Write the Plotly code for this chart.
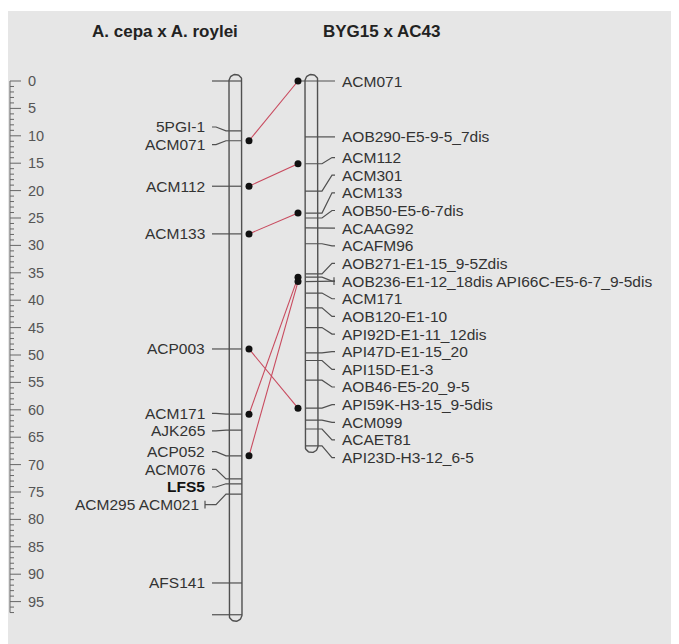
import numpy as np
import plotly.graph_objects as go

# ---------------- data ----------------
title_left = "A. cepa x A. roylei"
title_right = "BYG15 x AC43"

left_labels = ["5PGI-1", "ACM071", "ACM112", "ACM133", "ACP003", "ACM171",
               "AJK265", "ACP052", "ACM076", "LFS5", "ACM295 ACM021", "AFS141"]
left_pos = [[9.1], [10.9], [19.2], [27.9], [48.9], [60.8],
            [63.7], [68.4], [72.6], [73.5], [75.4], [91.6]]
left_bold = ["LFS5"]
left_length = 97.4

right_labels = ["ACM071", "AOB290-E5-9-5_7dis", "ACM112", "ACM301", "ACM133",
                "AOB50-E5-6-7dis", "ACAAG92", "ACAFM96", "AOB271-E1-15_9-5Zdis",
                "AOB236-E1-12_18dis API66C-E5-6-7_9-5dis", "ACM171", "AOB120-E1-10",
                "API92D-E1-11_12dis", "API47D-E1-15_20", "API15D-E1-3",
                "AOB46-E5-20_9-5", "API59K-H3-15_9-5dis", "ACM099", "ACAET81",
                "API23D-H3-12_6-5"]
right_pos = [[0.0], [10.2], [15.1], [20.1], [24.1], [25.0], [26.8], [29.7], [35.2],
             [35.8, 36.6], [38.7], [41.4], [45.0], [49.6], [51.0], [54.6], [59.7],
             [61.9], [63.5], [66.6]]
right_length = 66.6

# homologous marker links (left cM -> right cM)
link_left = [10.9, 19.2, 27.9, 48.9, 60.8, 68.4]
link_right = [0.0, 15.1, 24.1, 59.7, 35.8, 36.6]

ruler_max = 97
ruler_major = list(range(0, 100, 5))

# ---------------- layout helpers ----------------
W, H = 679, 644
OFF = 8  # page body margin
PX_PER_CM = 5.48
Y0_PX = 81.0


def cm_of_px(p):
    return (p - Y0_PX) / PX_PER_CM


LABEL_GAP = 17.65 / PX_PER_CM
LINE_C = "#505050"
TEXT_C = "#333333"
LINK_C = "#c84a5e"
FONT = "Liberation Sans, Arial, sans-serif"


def spread(groups, gap):
    """MapChart-like label spreading: merge overlapping clusters, centred on mean."""
    tick_means = [float(np.mean(g)) for g in groups]
    clusters = [[i] for i in range(len(groups))]

    def centre(c):
        return float(np.mean([tick_means[i] for i in c]))

    changed = True
    while changed:
        changed = False
        out = [clusters[0]]
        for c in clusters[1:]:
            prev = out[-1]
            pc, cc = centre(prev), centre(c)
            prev_bot = pc + (len(prev) - 1) / 2 * gap
            cur_top = cc - (len(c) - 1) / 2 * gap
            if cur_top - prev_bot < gap - 1e-9:
                out[-1] = prev + c
                changed = True
            else:
                out.append(c)
        clusters = out
    pos = [0.0] * len(groups)
    for c in clusters:
        cc = centre(c)
        for k, i in enumerate(c):
            pos[i] = cc + (k - (len(c) - 1) / 2) * gap
    return pos


fig = go.Figure()
annotations = []

# background
shapes = [dict(type="rect", xref="x", yref="y", x0=6, x1=W, y0=cm_of_px(11),
               y1=cm_of_px(H), fillcolor="#e6e6e6", line=dict(width=0), layer="below")]


def chromosome(xl, xr, length):
    xc = (xl + xr) / 2
    r = (xr - xl) / 2
    rcm = r / PX_PER_CM
    t = np.linspace(0, np.pi, 25)
    xs = [xl, xl] + list(xc - r * np.cos(t)) + [xr, xr] + list(xc + r * np.cos(t))
    ys = [0, length] + list(length + rcm * np.sin(t)) + [length, 0] + list(-rcm * np.sin(t))
    fig.add_trace(go.Scatter(x=xs, y=ys, mode="lines", line=dict(color=LINE_C, width=1.4),
                             hoverinfo="skip", showlegend=False))


# ---------------- ruler ----------------
rx, ry = [10, 10, None], [0, ruler_max, None]
for v in range(0, ruler_max + 1):
    rx += [10, 21 if v % 5 == 0 else 14, None]
    ry += [v, v, None]
fig.add_trace(go.Scatter(x=rx, y=ry, mode="lines", line=dict(color="#666666", width=1),
                         hoverinfo="skip", showlegend=False))
for v in ruler_major:
    annotations.append(dict(x=26, y=v, text=str(v), showarrow=False, xanchor="left",
                            yanchor="middle", font=dict(size=14.5, color="#555555", family=FONT)))

# ---------------- left chromosome ----------------
LXL, LXR = 229, 242
chromosome(LXL, LXR, left_length)
lab_y = spread(left_pos, LABEL_GAP)
lx, ly = [], []
for v in [0, left_length]:
    lx += [212, LXR, None]
    ly += [v, v, None]
for lab, ticks, yl in zip(left_labels, left_pos, lab_y):
    grouped = " " in lab and len(lab) > 8
    for t in ticks:
        lx += [212, 216, 226, LXR, None]
        ly += [yl, yl, t, t, None]
    xend = 207
    if grouped:
        lx += [205, 212, None, 205, 205, None]
        ly += [yl, yl, None, yl - 0.7, yl + 0.7, None]
        xend = 201
    bold = lab in left_bold
    annotations.append(dict(x=xend, y=yl, text=f"<b>{lab}</b>" if bold else lab,
                            showarrow=False, xanchor="right", yanchor="middle",
                            font=dict(size=15.5, color="#111111" if bold else TEXT_C, family=FONT)))
fig.add_trace(go.Scatter(x=lx, y=ly, mode="lines", line=dict(color=LINE_C, width=1.2),
                         hoverinfo="skip", showlegend=False))

# ---------------- right chromosome ----------------
RXL, RXR = 305, 318
chromosome(RXL, RXR, right_length)
lab_y = spread(right_pos, LABEL_GAP)
rx2, ry2 = [], []
for lab, ticks, yl in zip(right_labels, right_pos, lab_y):
    for t in ticks:
        x_start = 299 if t == 0 else RXL
        rx2 += [x_start, 322, 332, 335, None]
        ry2 += [t, t, yl, yl, None]
    if len(ticks) > 1:
        rx2 += [334, 334, None]
        ry2 += [yl - 0.7, yl + 0.7, None]
    annotations.append(dict(x=340, y=yl, text=lab, showarrow=False, xanchor="left",
                            yanchor="middle", font=dict(size=15.5, color=TEXT_C, family=FONT)))
fig.add_trace(go.Scatter(x=rx2, y=ry2, mode="lines", line=dict(color=LINE_C, width=1.2),
                         hoverinfo="skip", showlegend=False))

# ---------------- links ----------------
kx, ky = [], []
for a, b in zip(link_left, link_right):
    kx += [249, 298, None]
    ky += [a, b, None]
fig.add_trace(go.Scatter(x=kx, y=ky, mode="lines", line=dict(color=LINK_C, width=1.1),
                         hoverinfo="skip", showlegend=False))
fig.add_trace(go.Scatter(x=[249] * len(link_left) + [298] * len(link_right),
                         y=link_left + link_right, mode="markers",
                         marker=dict(color="#111111", size=7), hoverinfo="skip",
                         showlegend=False))

# ---------------- titles ----------------
ty = cm_of_px(31)
annotations.append(dict(x=165, y=ty, text=f"<b>{title_left}</b>", showarrow=False,
                        xanchor="center", yanchor="middle",
                        font=dict(size=17, color="#222222", family=FONT)))
annotations.append(dict(x=381, y=ty, text=f"<b>{title_right}</b>", showarrow=False,
                        xanchor="center", yanchor="middle",
                        font=dict(size=17, color="#222222", family=FONT)))

# figure is offset by the page's 8px body margin, so map reference pixels accordingly
fig.update_layout(
    width=W - OFF, height=H - OFF, margin=dict(l=0, r=0, t=0, b=0),
    paper_bgcolor="white", plot_bgcolor="rgba(0,0,0,0)",
    xaxis=dict(range=[OFF, W], visible=False, fixedrange=True),
    yaxis=dict(range=[cm_of_px(H), cm_of_px(OFF)], visible=False, fixedrange=True),
    shapes=shapes, annotations=annotations, showlegend=False,
)
fig.write_html("out.html")
